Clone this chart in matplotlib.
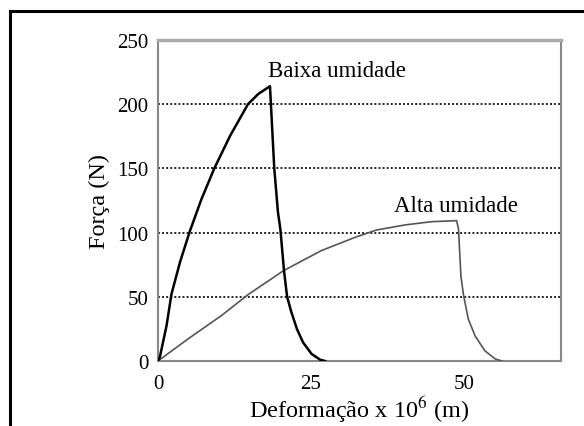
import matplotlib.pyplot as plt
from matplotlib.lines import Line2D

plt.rcParams['font.family'] = ['Liberation Serif', 'DejaVu Serif']
plt.rcParams['mathtext.fontset'] = 'stix'

# Curvas força x deformação (deformação x 10^6 m, força em N)
baixa_x = [0, 0.3, 1.4, 2.2, 3.6, 5.2, 7.1, 9.2, 11.8, 14.7, 16.4, 18.3,
           19.0, 19.6, 20.0, 20.6, 21.1, 21.8, 22.7, 23.7, 25.1,
           26.5, 27.3]
baixa_y = [0, 3, 27.5, 52, 77, 101, 126, 150, 175.5, 200, 208, 214,
           150, 116, 102.6, 70, 50, 38, 25, 14.5, 5.5,
           1, 0]

alta_x = [0, 5.0, 10.4, 14.8, 20.5, 26.7, 32.2, 35.7, 40.4, 44.7, 48.8,
          49.1, 49.5, 49.9, 50.7, 51.8, 53.4, 55.1, 56.2]
alta_y = [0, 17.5, 35.5, 52, 70.3, 86, 96.3, 102, 106, 108.5, 109.3,
          102.8, 66, 52, 32.7, 19.7, 8, 1.6, 0]

y_ticks = [0, 50, 100, 150, 200, 250]
x_ticks = [0, 25, 50]

fig = plt.figure(figsize=(5.84, 4.27), dpi=100)
ax = fig.add_axes([0.2705, 0.1522, 0.6896, 0.7518])

for y in y_ticks[1:-1]:
    ax.axhline(y, color='#222222', lw=1.4, ls=(0, (1, 1.1)), zorder=1)

ax.plot(alta_x, alta_y, color='#555555', lw=1.2, zorder=3)
ax.plot(baixa_x, baixa_y, color='black', lw=1.8, zorder=4)

ax.set_xlim(0, 65.8)
ax.set_ylim(0, 250)
ax.set_xticks(x_ticks)
ax.set_yticks(y_ticks)
ax.tick_params(length=0, labelsize=15)
ax.tick_params(axis='x', pad=9)
ax.tick_params(axis='y', pad=7)

for side in ['left', 'right', 'bottom']:
    ax.spines[side].set_color('#888888')
    ax.spines[side].set_linewidth(1.5)
ax.spines['top'].set_color('#aaaaaa')
ax.spines['top'].set_linewidth(2.5)

ax.set_xlabel('Deformação x 10$^6$ (m)', fontsize=17.5, labelpad=1)
ax.set_ylabel('Força (N)', fontsize=17.5, labelpad=5)

ax.text(18.0, 226, 'Baixa umidade', fontsize=16.5, ha='left', va='center')
ax.text(48.7, 121, 'Alta umidade', fontsize=16.5, ha='center', va='center')

# moldura externa
fig.add_artist(Line2D([10 / 584, 10 / 584], [0, 1 - 12 / 427],
                      transform=fig.transFigure, color='black', lw=2.2))
fig.add_artist(Line2D([10 / 584, 1], [1 - 12 / 427, 1 - 12 / 427],
                      transform=fig.transFigure, color='black', lw=2.2))

fig.savefig('out.png', dpi=100)
